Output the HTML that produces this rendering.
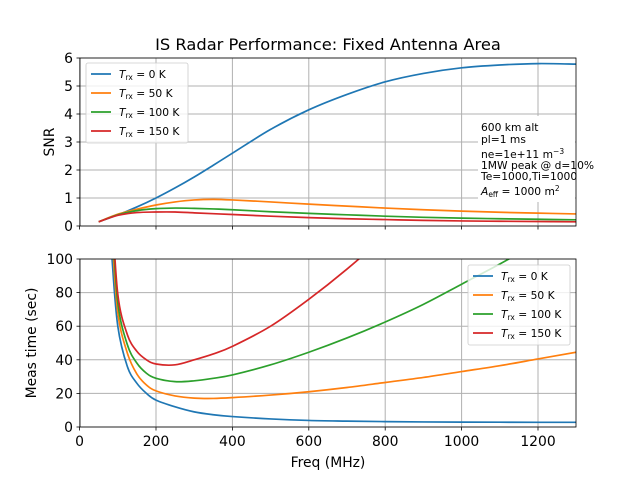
<!DOCTYPE html>
<html><head><meta charset="utf-8"><style>
body{margin:0;background:#fff}
svg{font-family:"DejaVu Sans","Liberation Sans",sans-serif}
</style></head><body>
<svg id="c" width="640" height="480" xmlns="http://www.w3.org/2000/svg">
<rect width="640" height="480" fill="#fff"/>
<defs>
<clipPath id="ct"><rect x="80" y="58" width="496" height="168"/></clipPath>
<clipPath id="cb"><rect x="80" y="259" width="496" height="168"/></clipPath>
</defs>
<text x="328" y="50" text-anchor="middle" font-size="16.3">IS Radar Performance: Fixed Antenna Area</text>
<g id="g"></g>
</svg>
<script>
const freqTop=[50,100,150,200,250,300,350,400,500,600,700,800,900,1000,1100,1200,1300];
const snr0=[0.15,0.4,0.68,1.0,1.36,1.75,2.17,2.6,3.45,4.15,4.7,5.15,5.45,5.65,5.75,5.8,5.78];
const snr50=[0.15,0.42,0.6,0.75,0.86,0.93,0.95,0.93,0.86,0.78,0.71,0.64,0.58,0.53,0.49,0.46,0.43];
const snr100=[0.15,0.4,0.55,0.62,0.64,0.63,0.61,0.58,0.51,0.45,0.4,0.35,0.31,0.28,0.26,0.24,0.22];
const snr150=[0.15,0.38,0.48,0.5,0.5,0.47,0.44,0.41,0.35,0.3,0.26,0.23,0.2,0.18,0.17,0.16,0.15];
const freqBot=[75,85,100,125,150,175,200,250,300,350,400,500,600,700,800,900,1000,1100,1200,1300];
const time0=[140,100,60,36,26,20,16,12,9,7.3,6.2,4.8,3.9,3.5,3.2,3.0,2.9,2.85,2.8,2.8];
const time50=[170,115,68,44,31.5,25,21.5,18.5,17.2,17,17.5,19,21,23.5,26.5,29.5,33,36.5,40.5,44.5];
const time100=[185,125,74,49,38,32,29,27,27.5,29,31,37,44.5,53,62.5,73,85,97,110,124];
const time150=[195,132,79,55,45,40,37.5,37,40,43.5,48,60,76,94,114,136,160,185,210,238];
const xTicks=[0,200,400,600,800,1000,1200];
const yTopTicks=[0,1,2,3,4,5,6];
const yBotTicks=[0,20,40,60,80,100];
const labels=["0","50","100","150"];
const colors=["#1f77b4","#ff7f0e","#2ca02c","#d62728"];
const NS="http://www.w3.org/2000/svg";
const g=document.getElementById('g');
const X=f=>79.6+f*0.382;
const YT=v=>226-v*28;
const YB=v=>427-v*1.68;
function el(t,a,p){const e=document.createElementNS(NS,t);for(const k in a)e.setAttribute(k,a[k]);(p||g).appendChild(e);return e;}
function path(xs,ys,fx,fy){const p=xs.map((x,i)=>[fx(x),fy(ys[i])]);let d="M"+p[0][0]+","+p[0][1];
for(let i=0;i<p.length-1;i++){const p0=p[Math.max(0,i-1)],p1=p[i],p2=p[i+1],p3=p[Math.min(p.length-1,i+2)];
d+=" C"+(p1[0]+(p2[0]-p0[0])/6)+","+(p1[1]+(p2[1]-p0[1])/6)+" "+(p2[0]-(p3[0]-p1[0])/6)+","+(p2[1]-(p3[1]-p1[1])/6)+" "+p2[0]+","+p2[1];}return d;}
function axes(top,ticks,Y,ylab,yname){
 const bot=top+168;
 xTicks.forEach(t=>{const l=el('line',{x1:X(t),x2:X(t),y1:top,y2:bot,stroke:'#b0b0b0','stroke-width':1});
 
 el('line',{x1:X(t),x2:X(t),y1:bot,y2:bot+3.5,stroke:'#000','stroke-width':0.8});});
 ticks.forEach(t=>{const l=el('line',{x1:80,x2:576,y1:Y(t),y2:Y(t),stroke:'#b0b0b0','stroke-width':1});
 
 el('line',{x1:76.5,x2:80,y1:Y(t),y2:Y(t),stroke:'#000','stroke-width':0.8});
 const tx=el('text',{x:73,y:Y(t)+5,'text-anchor':'end','font-size':13.9});tx.textContent=t;
 });
 const yl=el('text',{x:0,y:0,'text-anchor':'middle','font-size':13.9,transform:`translate(${top>100?36:54},${top+84}) rotate(-90)`});
 yl.textContent=ylab;
}
axes(58,yTopTicks,YT,'SNR','snr-y-axis');
axes(259,yBotTicks,YB,'Meas time (sec)','time-y-axis');
xTicks.forEach(t=>{const tx=el('text',{x:X(t),y:446,'text-anchor':'middle','font-size':13.9});tx.textContent=t;
 });
const xl=el('text',{x:328,y:467,'text-anchor':'middle','font-size':13.9});xl.textContent='Freq (MHz)';

const ab=el('rect',{x:478,y:116,width:97,height:86,fill:'#fff'});

const ann=el('text',{x:481,y:131,'font-size':10.7});

ann.innerHTML='<tspan x="481" dy="0">600 km alt</tspan><tspan x="481" dy="12">pl=1 ms</tspan><tspan x="481" dy="15">ne=1e+11 m<tspan dy="-4" font-size="7.5">−3</tspan></tspan><tspan x="481" dy="15">1MW peak @ d=10%</tspan><tspan x="481" dy="11">Te=1000,Ti=1000</tspan><tspan x="481" dy="15"><tspan font-style="italic">A</tspan><tspan font-size="7.5" dy="2">eff</tspan><tspan dy="-2"> = 1000 m</tspan><tspan dy="-4" font-size="7.5">2</tspan></tspan>';
const gt=el('g',{'clip-path':'url(#ct)'}),gb=el('g',{'clip-path':'url(#cb)'});
[snr0,snr50,snr100,snr150].forEach((s,i)=>{const p=el('path',{d:path(freqTop,s,X,YT),fill:'none',stroke:colors[i],'stroke-width':1.7},gt);
 });
[time0,time50,time100,time150].forEach((s,i)=>{const p=el('path',{d:path(freqBot,s,X,YB),fill:'none',stroke:colors[i],'stroke-width':1.7},gb);
 });
[58,259].forEach(t=>{const f=el('rect',{x:80,y:t,width:496,height:168,fill:'none',stroke:'#000','stroke-width':0.8});
 });
function legend(x,y,name){const lg=el('g',{});
 el('rect',{x:x,y:y,width:102,height:80,rx:2,fill:'#fff','fill-opacity':0.8,stroke:'#ccc','stroke-width':0.8},lg);
 labels.forEach((l,i)=>{const cy=y+11+i*19;
 el('line',{x1:x+5,x2:x+25,y1:cy,y2:cy,stroke:colors[i],'stroke-width':1.7},lg);
 const t=el('text',{x:x+33,y:cy+4,'font-size':10.7},lg);
 
 t.innerHTML='<tspan font-style="italic">T</tspan><tspan font-size="7.5" dy="2">rx</tspan><tspan dy="-2"> = '+l+' K</tspan>';});}
legend(86,63,'snr-legend');
legend(468,265,'time-legend');
</script>
</body></html>
